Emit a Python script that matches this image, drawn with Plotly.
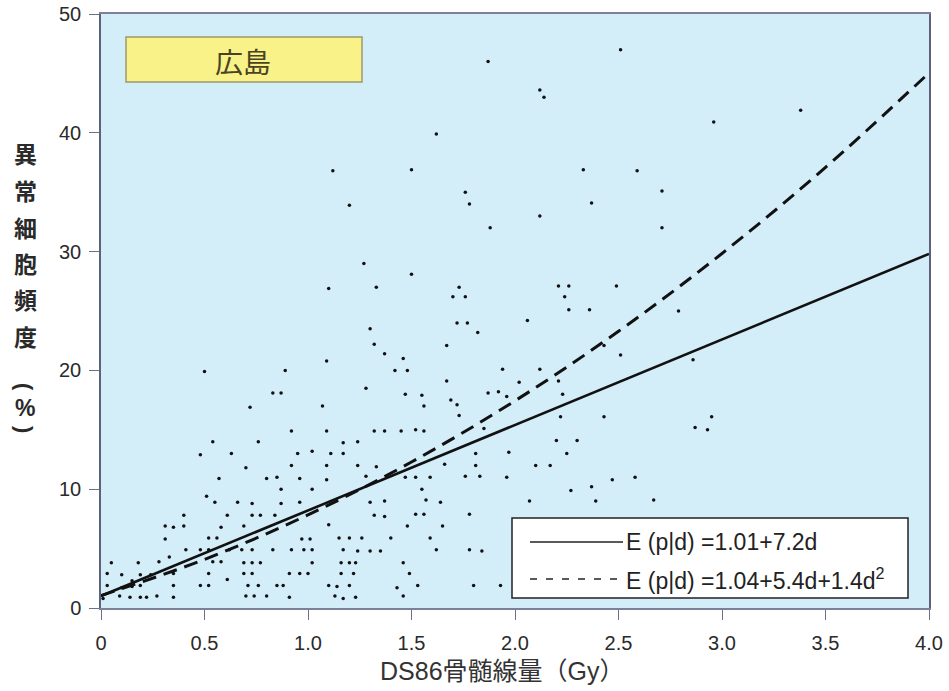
import plotly.graph_objects as go

# ---- data ----
dose = [
    1.87, 1.62, 1.12, 1.50, 1.76, 1.78, 1.20, 1.88, 1.27, 1.50, 1.10, 1.33, 1.73, 1.70, 1.76,
    2.51, 2.12, 2.14, 3.38, 2.96, 2.33, 2.59, 2.71, 2.37, 2.12, 2.71, 2.21, 2.26, 2.49, 2.24,
    2.26, 2.36, 2.79,
    2.06, 2.43, 2.51, 2.86, 1.94, 2.12, 2.02, 2.21, 1.87, 1.92, 1.96, 2.23, 1.85, 2.22, 2.43,
    2.95, 2.87, 2.93, 2.20, 2.30, 1.97, 2.25, 2.10, 2.17, 1.83, 1.96, 2.47, 2.58, 2.37, 2.27,
    2.07, 2.39, 2.67, 1.84, 1.93,
    1.30, 1.32, 1.72, 1.77, 1.82, 1.67, 1.37, 1.46, 1.09, 1.42, 1.48, 0.50, 0.89, 1.67, 1.28,
    0.83, 0.87, 1.47, 1.55, 1.69, 1.72, 1.56, 1.07, 0.72, 1.73, 0.92, 1.09, 1.32, 1.37, 1.45,
    1.52, 1.56, 0.54, 0.76, 1.17, 1.24, 0.48, 0.63, 0.95, 1.02, 1.11, 1.17, 1.81, 1.66, 1.81,
    0.70, 0.92, 1.09, 1.24, 1.33, 1.76, 0.57, 0.80, 0.85, 0.96, 1.09, 1.28, 1.47, 1.52, 1.59,
    0.87, 1.02, 1.55, 0.51, 1.57, 1.64, 0.55, 0.66, 0.73, 0.87, 0.96, 1.30, 1.37, 1.78, 0.40,
    0.61, 0.73, 0.77, 0.84, 1.32, 1.37, 1.52, 1.56, 0.31, 0.35, 0.40, 0.58, 0.69, 1.10, 1.48,
    1.65, 0.31, 0.52, 0.56, 0.97, 1.01, 1.15, 1.20, 1.26, 1.40, 1.59, 0.33, 0.41, 0.48, 0.52,
    0.62, 0.68, 0.73, 0.83, 0.92, 0.98, 1.02, 1.17, 1.24, 1.30, 1.35, 1.62, 1.78, 0.05, 0.18,
    0.28, 0.54, 0.58, 0.69, 0.73, 0.77, 1.02, 1.16, 1.20, 1.23, 1.46, 0.03, 0.10, 0.19, 0.24,
    0.35, 0.52, 0.69, 0.73, 0.91, 0.96, 1.00, 1.16, 1.22, 1.49, 0.15, 0.61, 0.03, 0.10, 0.15,
    0.19, 0.35, 0.48, 0.52, 0.71, 0.76, 0.85, 0.88, 1.10, 1.14, 1.20, 1.43, 1.53, 1.80, 0.09,
    0.14, 0.19, 0.22, 0.27, 0.35, 0.70, 0.74, 0.80, 0.91, 1.13, 1.17, 1.23, 1.46, 0.01,
]
freq = [
    46.0, 39.9, 36.8, 36.9, 35.0, 34.0, 33.9, 32.0, 29.0, 28.1, 26.9, 27.0, 27.0, 26.2, 26.2,
    47.0, 43.6, 43.0, 41.9, 40.9, 36.9, 36.8, 35.1, 34.1, 33.0, 32.0, 27.1, 27.1, 27.1, 26.2,
    25.1, 25.1, 25.0,
    24.2, 22.1, 21.3, 20.9, 20.1, 20.1, 19.0, 19.1, 18.1, 18.2, 17.8, 18.0, 15.1, 16.1, 16.1,
    16.1, 15.2, 15.0, 14.1, 14.1, 13.1, 13.0, 12.0, 12.0, 11.1, 11.0, 10.8, 11.0, 10.2, 9.9,
    9.0, 9.0, 9.1, 4.8, 1.9,
    23.5, 22.2, 24.0, 24.0, 23.2, 22.1, 21.4, 21.0, 20.8, 20.0, 20.0, 19.9, 20.0, 19.1, 18.5,
    18.1, 18.1, 18.0, 17.9, 17.5, 17.1, 17.0, 17.0, 16.9, 16.2, 14.9, 14.9, 14.9, 14.9, 14.9,
    15.0, 14.9, 14.0, 14.0, 13.9, 14.0, 12.9, 13.0, 13.0, 13.2, 13.0, 13.0, 13.0, 12.1, 12.0,
    11.8, 12.0, 12.0, 12.0, 11.9, 11.1, 10.9, 10.9, 11.0, 10.9, 10.8, 11.1, 11.0, 11.0, 11.0,
    10.0, 10.0, 10.0, 9.4, 9.1, 8.9, 8.9, 8.9, 8.8, 8.8, 8.9, 8.9, 9.0, 7.9, 7.8,
    7.8, 7.8, 7.8, 7.8, 7.8, 7.7, 7.9, 7.9, 6.9, 6.8, 6.9, 6.8, 6.9, 7.0, 6.9,
    6.9, 5.8, 5.9, 5.9, 5.8, 5.8, 5.9, 5.9, 5.9, 5.9, 5.9, 4.3, 4.9, 4.9, 4.9,
    4.9, 4.9, 4.9, 4.9, 4.9, 4.9, 4.9, 4.9, 4.8, 4.8, 4.8, 4.9, 4.9, 3.8, 3.8,
    3.9, 3.9, 3.9, 3.8, 3.8, 3.8, 3.8, 3.8, 3.8, 3.8, 3.8, 2.9, 2.8, 2.8, 2.8,
    2.9, 2.9, 2.9, 2.9, 2.9, 2.9, 2.9, 2.9, 2.9, 2.9, 2.3, 2.4, 1.9, 1.7, 1.8,
    1.9, 1.9, 1.9, 1.9, 1.9, 1.9, 1.9, 1.9, 1.9, 1.8, 1.9, 1.7, 1.9, 1.9, 1.0,
    0.9, 0.9, 0.9, 1.0, 0.9, 1.0, 1.0, 1.0, 0.9, 1.0, 0.8, 0.9, 1.0, 0.8,
]

linear_dose = [0.0, 4.0]
linear_fit = [1.01, 29.81]
lq_dose = [0.0, 0.5, 1.0, 1.5, 2.0, 2.5, 3.0, 3.5, 4.0]
lq_fit = [1.04, 4.09, 7.84, 12.29, 17.44, 23.29, 29.84, 37.09, 45.04]

x_ticks = [0, 0.5, 1.0, 1.5, 2.0, 2.5, 3.0, 3.5, 4.0]
x_ticktext = ["0", "0.5", "1.0", "1.5", "2.0", "2.5", "3.0", "3.5", "4.0"]
y_ticks = [0, 10, 20, 30, 40, 50]

city_label = "広島"
legend_linear = "E (p|d) =1.01+7.2d"
legend_lq = "E (p|d) =1.04+5.4d+1.4d<sup>2</sup>"
x_title = "DS86骨髄線量（Gy）"
y_title_chars = ["異", "常", "細", "胞", "頻", "度"]
y_title_unit = ["(", "%", ")"]

FONT = "Liberation Sans, Arial, sans-serif"
CJK = "Noto Sans CJK JP, sans-serif"
MIXED = "Liberation Sans, Noto Sans CJK JP, sans-serif"

# target plot area in screen pixels (body margin is removed in the page)
PL, PR, PT, PB = 101, 929, 14, 608
W, H = 949, 691

fig = go.Figure()
fig.add_trace(go.Scatter(x=dose, y=freq, mode="markers",
                         marker=dict(size=3.5, color="#111111"), showlegend=False,
                         cliponaxis=False))
fig.add_trace(go.Scatter(x=linear_dose, y=linear_fit, mode="lines",
                         line=dict(color="#111111", width=2.6), showlegend=False))
fig.add_trace(go.Scatter(x=lq_dose, y=lq_fit, mode="lines",
                         line=dict(color="#111111", width=3, dash="14px,8px", shape="spline"),
                         showlegend=False))

fig.update_layout(
    width=W, height=H,
    margin=dict(l=PL, r=W - PR, t=PT, b=H - PB, autoexpand=False),
    paper_bgcolor="white",
    plot_bgcolor="#D3EDF9",
    font=dict(family=FONT, color="#333333"),
    xaxis=dict(range=[0, 4.0], tickvals=x_ticks, ticktext=x_ticktext, automargin=False,
               showgrid=False, zeroline=False, showline=True, mirror=True,
               linecolor="#7b8198", linewidth=1.5, ticks="outside", ticklen=10,
               ticklabelstandoff=6,
               tickcolor="#6b7188", tickfont=dict(size=20, family=FONT, color="#2a2a2a")),
    yaxis=dict(range=[0, 50], tickvals=y_ticks, ticklabeloverflow="allow", automargin=False,
               showgrid=False, zeroline=False, showline=True, mirror=True,
               linecolor="#5d6278", linewidth=1.5, ticks="outside", ticklen=10,
               ticklabelstandoff=4,
               tickcolor="#6b7188", tickfont=dict(size=20, family=FONT, color="#2a2a2a")),
)

pw, ph = PR - PL, PB - PT


def dx(px):
    return (px - PL) / pw


def dy(py):
    return (PB - py) / ph


shapes = []
annotations = []

# x-axis title
annotations.append(dict(text=x_title, xref="paper", yref="paper",
                        x=dx(502), y=dy(671), xanchor="center", yanchor="middle",
                        showarrow=False,
                        font=dict(size=25, family=MIXED, color="#333")))

# city label box
shapes.append(dict(type="rect", xref="x domain", yref="y domain",
                   x0=dx(126), x1=dx(362), y0=dy(82), y1=dy(37),
                   fillcolor="#F8F288", line=dict(color="#9c9a6a", width=1.5)))
annotations.append(dict(text=city_label, xref="x domain", yref="y domain",
                        x=dx(243), y=dy(61), xanchor="center", yanchor="middle",
                        showarrow=False,
                        font=dict(size=28, family=CJK, color="#4a4322")))

# legend box
shapes.append(dict(type="rect", xref="x domain", yref="y domain",
                   x0=dx(512), x1=dx(908), y0=dy(598), y1=dy(518),
                   fillcolor="white", line=dict(color="#222222", width=1.5)))
shapes.append(dict(type="line", xref="x domain", yref="y domain",
                   x0=dx(530), x1=dx(623), y0=dy(542), y1=dy(542),
                   line=dict(color="#222222", width=1.5)))
shapes.append(dict(type="line", xref="x domain", yref="y domain",
                   x0=dx(530), x1=dx(623), y0=dy(579), y1=dy(579),
                   line=dict(color="#222222", width=1.5, dash="7px,9px")))
annotations.append(dict(text=legend_linear, xref="x domain", yref="y domain",
                        x=dx(624), y=dy(542), xanchor="left", yanchor="middle",
                        showarrow=False,
                        font=dict(size=23, family=FONT, color="#222")))
annotations.append(dict(text=legend_lq, xref="x domain", yref="y domain",
                        x=dx(624), y=dy(579), xanchor="left", yanchor="middle",
                        showarrow=False,
                        font=dict(size=23, family=FONT, color="#222")))

# vertical y-axis title, one character per line
y_pos = [153, 190, 227, 263, 299, 336]
for ch, py in zip(y_title_chars, y_pos):
    annotations.append(dict(text=ch, xref="paper", yref="paper",
                            x=dx(25), y=dy(py), xanchor="center", yanchor="middle",
                            showarrow=False,
                            font=dict(size=23, family=CJK, color="#2a2a2a", weight="bold")))
# "(%)" in vertical writing: parentheses turned sideways, % upright
unit_pos = [387, 408, 429]
unit_angle = [90, 0, 90]
unit_size = [22, 23, 22]
for ch, py, ang, sz in zip(y_title_unit, unit_pos, unit_angle, unit_size):
    annotations.append(dict(text=ch, xref="paper", yref="paper",
                            x=dx(25), y=dy(py), xanchor="center", yanchor="middle",
                            textangle=ang, showarrow=False,
                            font=dict(size=sz, family=FONT, color="#2a2a2a", weight="bold")))

fig.update_layout(shapes=shapes, annotations=annotations)
fig.write_html("out.html", config={"displayModeBar": False},
               post_script="document.body.style.margin='0';")
